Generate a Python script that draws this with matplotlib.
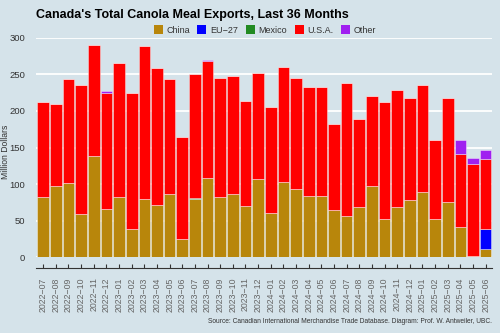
import matplotlib
matplotlib.use("Agg")
import matplotlib.pyplot as plt
import numpy as np
from matplotlib.patches import Patch

plt.rcParams['font.family'] = ['Liberation Sans', 'DejaVu Sans']

months = ["2022-07", "2022-08", "2022-09", "2022-10", "2022-11", "2022-12",
          "2023-01", "2023-02", "2023-03", "2023-04", "2023-05", "2023-06",
          "2023-07", "2023-08", "2023-09", "2023-10", "2023-11", "2023-12",
          "2024-01", "2024-02", "2024-03", "2024-04", "2024-05", "2024-06",
          "2024-07", "2024-08", "2024-09", "2024-10", "2024-11", "2024-12",
          "2025-01", "2025-02", "2025-03", "2025-04", "2025-05", "2025-06"]

# Million dollars by destination
china = [83, 97, 102, 59, 138, 66, 82, 39, 80, 72, 86, 25,
         80, 108, 82, 87, 70, 107, 61, 103, 93, 84, 84, 65,
         57, 69, 98, 53, 69, 78, 89, 53, 75, 42, 2, 11]
eu27 = [0, 0, 0, 0, 0, 0, 0, 0, 0, 0, 0, 0,
        0, 0, 0, 0, 0, 0, 0, 0, 0, 0, 0, 0,
        0, 0, 0, 0, 0, 0, 0, 0, 0, 0, 0, 28]
mexico = [0, 0, 0, 0, 0, 0, 0, 0, 0, 0, 0, 0,
          1, 0, 0, 0, 0, 0, 0, 0, 0, 0, 0, 0,
          0, 0, 0, 0, 0, 0, 0, 0, 0, 0, 0, 0]
usa = [129, 112, 142, 177, 152, 159, 184, 185, 209, 187, 157, 139,
       170, 160, 163, 161, 143, 145, 144, 157, 152, 148, 148, 117,
       181, 120, 123, 159, 160, 140, 147, 107, 143, 99, 126, 95]
other = [0, 0, 0, 0, 0, 2, 0, 0, 0, 0, 0, 0,
         0, 2, 0, 0, 0, 0, 0, 0, 0, 0, 0, 0,
         0, 0, 0, 0, 0, 0, 0, 0, 0, 19, 7, 12]

series = [("China", china, "#B8860B"),
          ("EU\u221227", eu27, "#0000FF"),
          ("Mexico", mexico, "#228B22"),
          ("U.S.A.", usa, "#FF0000"),
          ("Other", other, "#A020F0")]

bg = "#d5e3ea"
fig = plt.figure(figsize=(5, 3.33), dpi=100, facecolor=bg)
ax = fig.add_axes([0.072, 0.2273, 0.912, 0.6595], facecolor=bg)

x = np.arange(len(months))
bottom = np.zeros(len(months))
for name, vals, col in series:
    v = np.array(vals, dtype=float)
    ax.bar(x, v, bottom=bottom, width=0.92, color=col,
           edgecolor=(1, 1, 1, 0.45), linewidth=0.6, zorder=3)
    bottom += v

ax.set_ylim(0, 300)
ax.set_xlim(-0.57, len(months) - 0.5)
ax.set_yticks(np.arange(0, 301, 50))
ax.yaxis.grid(True, color="white", linewidth=1.3, zorder=0)
ax.set_axisbelow(True)
for s in ["top", "right", "left"]:
    ax.spines[s].set_visible(False)
ax.spines["bottom"].set_position(("outward", 7.5))
ax.spines["bottom"].set_color("#333333")
ax.spines["bottom"].set_linewidth(0.8)

ax.tick_params(axis="y", length=0, labelsize=6.8, labelcolor="#333333", pad=8)
ax.set_xticks(x)
ax.set_xticklabels([m.replace("-", "\u2212") for m in months], rotation=90,
                   fontsize=6.3, color="#666666")
ax.tick_params(axis="x", direction="in", length=3, width=0.8,
               color="#333333", pad=7)

ax.set_ylabel("Million Dollars", fontsize=6.2, color="#333333")
ax.yaxis.set_label_coords(-0.058, 0.48)

fig.text(0.072, 0.955, "Canada's Total Canola Meal Exports, Last 36 Months",
         fontsize=9, fontweight="bold", ha="left", va="center")

handles = [Patch(facecolor=c, edgecolor="none", label=n) for n, _, c in series]
fig.legend(handles=handles, loc="center", bbox_to_anchor=(0.53, 0.91), ncol=5,
           frameon=False, fontsize=6.5, handlelength=1.0, handleheight=1.1,
           handletextpad=0.45, columnspacing=0.8, labelcolor="#333333")

fig.text(0.984, 0.036,
         "Source: Canadian International Merchandise Trade Database. Diagram: Prof. W. Antweiler, UBC.",
         fontsize=4.8, color="#333333", ha="right", va="center")

fig.savefig("out.png", dpi=100, facecolor=bg)
